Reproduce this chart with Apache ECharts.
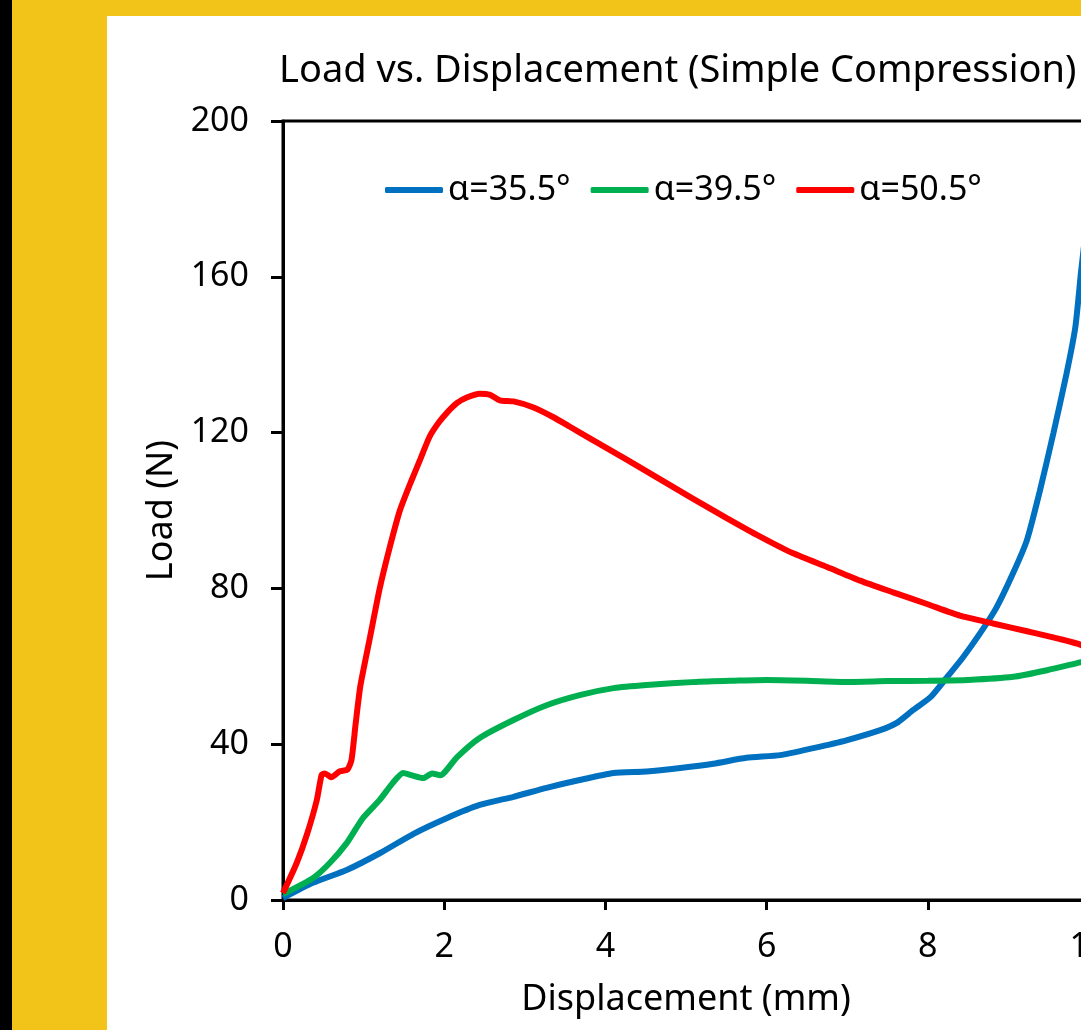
<!DOCTYPE html>
<html>
<head>
<meta charset="utf-8">
<script src="https://cdn.jsdelivr.net/npm/echarts@6/dist/echarts.min.js"></script>
<style>
  html, body { margin: 0; padding: 0; width: 1081px; height: 1030px; overflow: hidden; background: #000; }
  #frame { position: absolute; left: 12px; top: 0; width: 1069px; height: 1030px; background: #F2C319; overflow: hidden; }
  #chart { position: absolute; left: 95px; top: 16px; width: 1200px; height: 1014px; background: #fff; }
</style>
</head>
<body>
<div id="frame"><div id="chart"></div></div>
<script>
// displacement (mm), load (N)
const alpha355 = [
  [0, 0.5], [0.37, 4.4], [0.79, 7.7], [1.2, 12], [1.62, 17], [2.03, 21], [2.44, 24.4],
  [2.86, 26.5], [3.27, 28.8], [3.68, 30.8], [4.1, 32.6], [4.51, 33], [4.93, 33.9],
  [5.34, 35], [5.75, 36.5], [6.17, 37.2], [6.58, 39], [6.99, 41], [7.41, 43.6],
  [7.61, 45.4], [7.82, 48.8], [8.03, 52], [8.23, 57], [8.44, 62.4], [8.65, 68.5],
  [8.85, 75], [9.06, 84], [9.23, 92.4], [9.39, 105], [9.56, 120], [9.72, 135],
  [9.83, 147], [9.9, 161], [9.96, 172], [10, 180]
];
const alpha395 = [
  [0, 1.5], [0.37, 5.6], [0.58, 9.5], [0.79, 14.6], [0.99, 21], [1.2, 25.7], [1.36, 30],
  [1.49, 32.6], [1.6, 32], [1.74, 31.3], [1.85, 32.5], [1.95, 32], [2.16, 36.7],
  [2.44, 41.6], [2.86, 46.2], [3.27, 50], [3.68, 52.6], [4.1, 54.4], [4.51, 55.2],
  [5.13, 56], [5.6, 56.3], [6, 56.5], [6.5, 56.3], [7, 56], [7.5, 56.2], [8, 56.3],
  [8.5, 56.5], [9.06, 57.3], [9.48, 59], [9.89, 61], [10, 61.5]
];
const alpha505 = [
  [0, 1.8], [0.17, 9.5], [0.3, 17], [0.42, 25.7], [0.48, 32.2], [0.52, 32.5], [0.6, 31.5],
  [0.7, 33], [0.8, 33.5], [0.85, 36], [0.9, 45], [0.96, 55], [1.08, 67.5], [1.2, 80],
  [1.33, 91], [1.45, 100], [1.58, 107], [1.7, 113], [1.82, 119], [1.93, 122.5],
  [2.03, 125], [2.16, 127.6], [2.28, 129], [2.44, 130], [2.57, 129.7], [2.69, 128.3],
  [2.86, 128], [3.1, 126.5], [3.35, 124], [3.56, 121.5], [3.85, 118], [4.27, 113],
  [4.68, 108], [5.09, 103], [5.51, 98], [5.92, 93.3], [6.33, 89], [6.75, 85.5],
  [7.16, 82], [7.57, 79], [7.99, 76], [8.4, 73], [8.81, 71], [9.23, 69], [9.64, 67],
  [9.9, 65.5], [10, 64]
];
const seriesNames = ["α=35.5°", "α=39.5°", "α=50.5°"];
const seriesColors = ["#0070C0", "#00B050", "#FF0000"];
const seriesData = [alpha355, alpha395, alpha505];

const FONT = "Noto Sans";
const chart = echarts.init(document.getElementById("chart"), null, { renderer: "canvas" });

const option = {
  animation: false,
  title: {
    text: "Load vs. Displacement (Simple Compression)",
    left: 167,
    top: 31,
    textStyle: { fontFamily: FONT, fontSize: 38, fontWeight: "normal", color: "#000" }
  },
  legend: {
    left: 273,
    top: 152,
    icon: "roundRect",
    itemWidth: 58,
    itemHeight: 6,
    itemGap: 20,
    textStyle: { fontFamily: FONT, fontSize: 34, color: "#000" },
    data: seriesNames
  },
  grid: {
    left: 176,
    top: 105,
    right: 218,
    bottom: 130,
    show: true,
    borderColor: "#000",
    borderWidth: 3,
    containLabel: false
  },
  xAxis: {
    type: "value",
    min: 0,
    max: 10,
    interval: 2,
    name: "Displacement (mm)",
    nameLocation: "middle",
    nameGap: 82,
    nameTextStyle: { fontFamily: FONT, fontSize: 36, color: "#000" },
    axisLine: { show: true, lineStyle: { color: "#000", width: 3 } },
    axisTick: { show: true, length: 10, lineStyle: { color: "#000", width: 3 } },
    axisLabel: { margin: 30, fontFamily: FONT, fontSize: 34, color: "#000" },
    splitLine: { show: false }
  },
  yAxis: {
    type: "value",
    min: 0,
    max: 200,
    interval: 40,
    name: "Load (N)",
    nameLocation: "middle",
    nameGap: 103,
    nameTextStyle: { fontFamily: FONT, fontSize: 36, color: "#000" },
    axisLine: { show: true, lineStyle: { color: "#000", width: 3 } },
    axisTick: { show: true, length: 12, lineStyle: { color: "#000", width: 3 } },
    axisLabel: { margin: 34, fontFamily: FONT, fontSize: 34, color: "#000" },
    splitLine: { show: false }
  },
  series: seriesData.map((d, i) => ({
    name: seriesNames[i],
    type: "line",
    data: d,
    symbol: "none",
    smooth: 0.2,
    lineStyle: { color: seriesColors[i], width: 6 },
    itemStyle: { color: seriesColors[i] }
  }))
};

chart.setOption(option);
</script>
</body>
</html>
